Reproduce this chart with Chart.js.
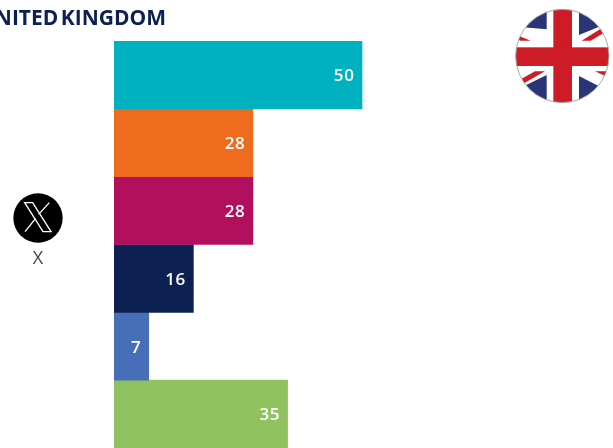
<!DOCTYPE html>
<html>
<head>
<meta charset="utf-8">
<script src="https://cdn.jsdelivr.net/npm/chart.js@4"></script>
<style>
html,body{margin:0;padding:0;background:#fff;width:613px;height:448px;overflow:hidden}
#wrap{position:relative;width:613px;height:448px;overflow:hidden}
canvas{position:absolute;left:0;top:0}
#title{position:absolute;right:447px;top:4px;white-space:nowrap;font:700 21px "Open Sans",sans-serif;letter-spacing:0;word-spacing:-3px;color:#0c2051;line-height:26px}
#cat{position:absolute;left:0;width:76px;top:246px;text-align:center;font:400 18px "Open Sans",sans-serif;color:#444;line-height:22px}
svg{position:absolute}
</style>
</head>
<body>
<div id="wrap">
<canvas id="c" width="613" height="448"></canvas>
<div id="title">UNITED KINGDOM</div>
<svg style="left:500px;top:0" width="113" height="113" viewBox="0 0 339 339">
<defs><clipPath id="cp"><circle cx="187" cy="168" r="140"/></clipPath><filter id="bl"><feGaussianBlur stdDeviation="2"/></filter></defs>
<g clip-path="url(#cp)"><g filter="url(#bl)">
<rect width="339" height="339" fill="#fff"/>
<polygon points="140,10 140,88 70,82" fill="#2b3578"/>
<polygon points="237,10 237,105 310,75" fill="#2b3578"/>
<polygon points="140,225 140,320 65,262" fill="#2b3578"/>
<polygon points="237,228 237,320 315,268" fill="#2b3578"/>
<polygon points="245,122 302,86 310,100 272,122" fill="#ce1a26"/>
<polygon points="50,105 92,122 62,122 45,115" fill="#ce1a26"/>
<polygon points="62,238 105,214 135,214 68,252" fill="#ce1a26"/>
<polygon points="285,214 318,214 330,235" fill="#ce1a26"/>
<rect x="160" y="0" width="56" height="339" fill="#ce1a26"/>
<rect x="0" y="142" width="339" height="56" fill="#ce1a26"/>
</g></g>
<circle cx="187" cy="168" r="140" fill="none" stroke="#a9a9a9" stroke-width="3"/>
</svg>
<svg style="left:0;top:180px" width="80" height="90" viewBox="0 0 240 270">
<circle cx="114" cy="114" r="74" fill="#000"/>
<polygon points="74,68 98,68 153,155 129,155" fill="none" stroke="#fff" stroke-width="4"/>
<path d="M148 68L116 103M107 115L75 155" stroke="#fff" stroke-width="4" fill="none"/>
</svg>
<div id="cat">X</div>
</div>
<script>
const categories = ['X'];
const seriesValues = [50, 28, 28, 16, 7, 35];
const seriesNames = ['Series 1', 'Series 2', 'Series 3', 'Series 4', 'Series 5', 'Series 6'];
const seriesColors = ['#00b2c0', '#ef6b1d', '#b2105f', '#0c2051', '#476fb8', '#90c360'];

const valueLabels = {
  id: 'valueLabels',
  afterDatasetsDraw(chart) {
    const ctx = chart.ctx;
    ctx.save();
    ctx.fillStyle = '#fff';
    ctx.font = '600 17px "Open Sans", sans-serif';
    ctx.letterSpacing = '0.6px';
    ctx.textAlign = 'right';
    ctx.textBaseline = 'middle';
    chart.data.datasets.forEach((ds, i) => {
      const el = chart.getDatasetMeta(i).data[0];
      ctx.fillText(String(ds.data[0]), el.x - 7.5, el.y + 1.5);
    });
    ctx.restore();
  }
};

new Chart(document.getElementById('c'), {
  type: 'bar',
  plugins: [valueLabels],
  data: {
    labels: categories,
    datasets: seriesValues.map((v, i) => ({
      label: seriesNames[i],
      data: [v],
      backgroundColor: seriesColors[i],
      borderWidth: 0,
      barPercentage: 1,
      categoryPercentage: 1
    }))
  },
  options: {
    indexAxis: 'y',
    responsive: false,
    animation: false,
    layout: { padding: { left: 114, right: 3, top: 41, bottom: 0 } },
    plugins: { legend: { display: false }, title: { display: false }, tooltip: { enabled: false } },
    scales: {
      x: { display: false, min: 0, max: 100 },
      y: { display: false }
    }
  }
});
</script>
</body>
</html>
